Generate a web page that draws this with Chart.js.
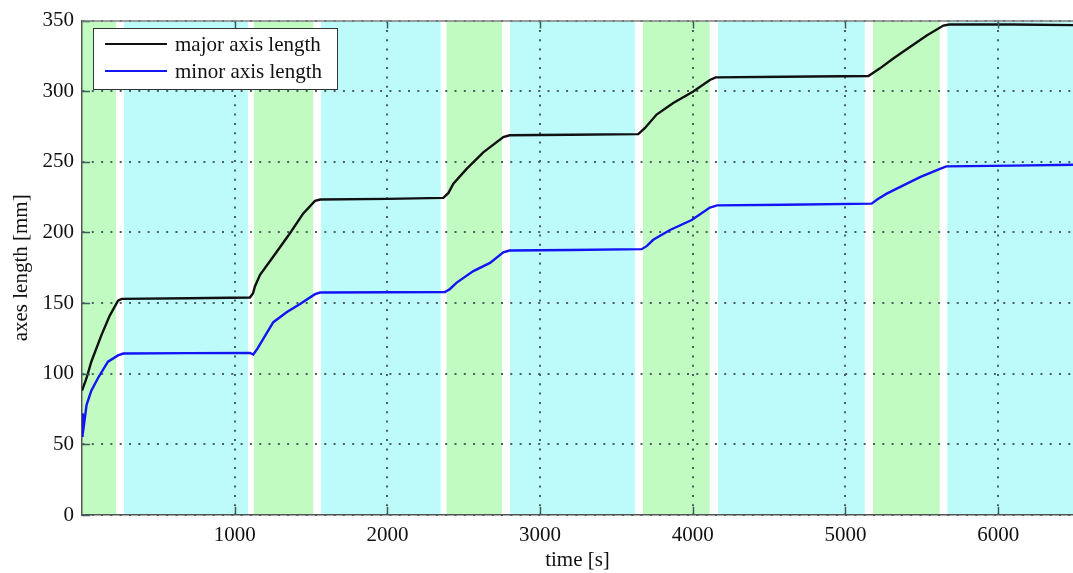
<!DOCTYPE html>
<html>
<head>
<meta charset="utf-8">
<title>axes length</title>
<script src="https://cdn.jsdelivr.net/npm/chart.js@4.4.1/dist/chart.umd.min.js"></script>
<style>
    html, body { margin: 0; padding: 0; background: #fff; overflow: hidden; }
    #wrap { width: 1073px; height: 573px; }
</style>
</head>
<body>
<div id="wrap"><canvas id="axesChart" width="1073" height="573"></canvas></div>
<script>
// time [s] / length [mm]
const majorTime = [0, 30, 61, 126, 181, 236, 260, 700, 1100, 1120, 1133, 1166, 1253, 1362, 1449, 1526, 1560, 2000, 2366, 2400, 2432, 2519, 2628, 2759, 2800, 3200, 3643, 3687, 3763, 3872, 4003, 4112, 4150, 4600, 5150, 5226, 5313, 5422, 5532, 5641, 5680, 6100, 6490];
const majorLen  = [88, 97, 108.5, 127, 141, 151.7, 153, 153.4, 154, 157, 162, 170, 183, 199.5, 213.5, 222.4, 223.3, 223.8, 224.5, 228, 234.5, 245, 256.7, 267.6, 268.8, 269.2, 269.6, 274, 283.5, 291.7, 299.8, 308, 309.8, 310.2, 310.8, 316.2, 323.2, 331.3, 339.5, 346.5, 347.2, 347.2, 346.8];

const minorTime = [0, 4, 13, 30, 61, 105, 170, 236, 270, 700, 1100, 1122, 1150, 1188, 1253, 1340, 1428, 1526, 1560, 2000, 2377, 2410, 2454, 2563, 2672, 2759, 2800, 3200, 3665, 3700, 3741, 3851, 3993, 4112, 4160, 4600, 5171, 5210, 5270, 5379, 5488, 5619, 5660, 6100, 6490];
const minorLen  = [56, 72, 64, 78, 88, 97, 108.5, 113, 114.3, 114.6, 114.8, 113.6, 118, 124.8, 136.5, 143.5, 149.3, 156.3, 157.5, 157.7, 157.8, 160, 164.5, 172.7, 178.5, 186, 187.2, 187.6, 188.2, 190.5, 194.8, 201.8, 208.8, 217.7, 219.2, 219.6, 220.4, 223.5, 227.5, 233.3, 239.2, 245, 246.8, 247.3, 248];

// shaded phases [start, end] in s
const greenPhases = [[0, 223], [1126, 1514], [2388, 2750], [3674, 4111], [5180, 5617]];
const cyanPhases  = [[275, 1087], [1566, 2349], [2803, 3621], [4165, 5126], [5667, 6490]];

const xTicks = [1000, 2000, 3000, 4000, 5000, 6000];
const yTicks = [0, 50, 100, 150, 200, 250, 300, 350];

const FONT = '"Liberation Serif", "DejaVu Serif", serif';

const phaseBands = {
    id: 'phaseBands',
    beforeDraw(chart) {
        const { ctx, chartArea: a, scales: { x } } = chart;
        ctx.save();
        ctx.beginPath();
        ctx.rect(a.left, a.top, a.right - a.left, a.bottom - a.top);
        ctx.clip();
        const fill = (list, color) => {
            ctx.fillStyle = color;
            list.forEach(([s, e]) => {
                const x1 = x.getPixelForValue(s), x2 = x.getPixelForValue(e);
                ctx.fillRect(x1, a.top, x2 - x1, a.bottom - a.top);
            });
        };
        fill(greenPhases, '#c1fbc1');
        fill(cyanPhases, '#bdfbfb');
        ctx.restore();
    }
};

// inward tick marks + top frame, matlab style
const frameTicks = {
    id: 'frameTicks',
    afterDatasetsDraw(chart) {
        const { ctx, chartArea: a, scales: { x, y } } = chart;
        ctx.save();
        ctx.strokeStyle = '#3d5c5c';
        ctx.lineWidth = 1.5;
        ctx.beginPath();
        xTicks.forEach(v => {
            const px = Math.round(x.getPixelForValue(v)) + 0.5;
            ctx.moveTo(px, a.bottom); ctx.lineTo(px, a.bottom - 8);
            ctx.moveTo(px, a.top); ctx.lineTo(px, a.top + 8);
        });
        yTicks.forEach(v => {
            const py = Math.round(y.getPixelForValue(v)) + 0.5;
            ctx.moveTo(a.left, py); ctx.lineTo(a.left + 8, py);
        });
        ctx.stroke();
        ctx.strokeStyle = '#808080';
        ctx.beginPath();
        ctx.moveTo(a.left, a.top + 0.5); ctx.lineTo(a.right, a.top + 0.5);
        ctx.stroke();
        ctx.restore();
    }
};

const boxLegend = {
    id: 'boxLegend',
    afterDraw(chart) {
        const ctx = chart.ctx;
        const bx = 93, by = 28, bw = 244, bh = 61;
        ctx.save();
        ctx.fillStyle = '#fff';
        ctx.fillRect(bx, by, bw, bh);
        ctx.strokeStyle = '#333';
        ctx.lineWidth = 1;
        ctx.strokeRect(bx + 0.5, by + 0.5, bw, bh);
        ctx.font = '21px ' + FONT;
        ctx.textBaseline = 'middle';
        chart.data.datasets.forEach((ds, i) => {
            const ly = by + 16 + i * 27;
            ctx.strokeStyle = ds.borderColor;
            ctx.lineWidth = 2;
            ctx.beginPath();
            ctx.moveTo(105, ly); ctx.lineTo(167, ly);
            ctx.stroke();
            ctx.fillStyle = '#111';
            ctx.fillText(ds.label, 175, ly + 1);
        });
        ctx.restore();
    }
};

new Chart(document.getElementById('axesChart').getContext('2d'), {
    type: 'line',
    data: {
        datasets: [
            { label: 'major axis length', data: majorTime.map((t, i) => ({ x: t, y: majorLen[i] })),
              borderColor: '#111111', borderWidth: 2.4, pointRadius: 0, tension: 0 },
            { label: 'minor axis length', data: minorTime.map((t, i) => ({ x: t, y: minorLen[i] })),
              borderColor: '#1414f5', borderWidth: 2.4, pointRadius: 0, tension: 0 }
        ]
    },
    options: {
        responsive: false, animation: false, devicePixelRatio: 1,
        layout: { padding: { top: 16, right: 0, left: 0, bottom: 0 } },
        plugins: { legend: { display: false }, tooltip: { enabled: false } },
        scales: {
            x: {
                type: 'linear', min: 0, max: 6490,
                afterBuildTicks: s => { s.ticks = xTicks.map(v => ({ value: v })); },
                afterFit: s => { s.height = 58; },
                ticks: { callback: v => String(v), color: '#111', padding: 8, maxRotation: 0,
                         font: { family: FONT, size: 21 } },
                grid: { color: '#4a6060', lineWidth: 2, drawTicks: false },
                border: { color: '#555', width: 1.5, dash: [2, 7.3] },
                title: { display: true, text: 'time [s]', color: '#111', padding: 0,
                         font: { family: FONT, size: 21 } }
            },
            y: {
                min: 0, max: 350,
                afterBuildTicks: s => { s.ticks = yTicks.map(v => ({ value: v })); },
                afterFit: s => { s.width = 82; },
                ticks: { callback: v => String(v), color: '#111', padding: 8,
                         font: { family: FONT, size: 21 } },
                grid: { color: '#4a6060', lineWidth: 2, drawTicks: false },
                border: { color: '#555', width: 1.5, dash: [2, 7.3] },
                title: { display: true, text: 'axes length [mm]', color: '#111', padding: { top: 9, bottom: 0 },
                         font: { family: FONT, size: 21 } }
            }
        }
    },
    plugins: [phaseBands, frameTicks, boxLegend]
});
</script>
</body>
</html>
